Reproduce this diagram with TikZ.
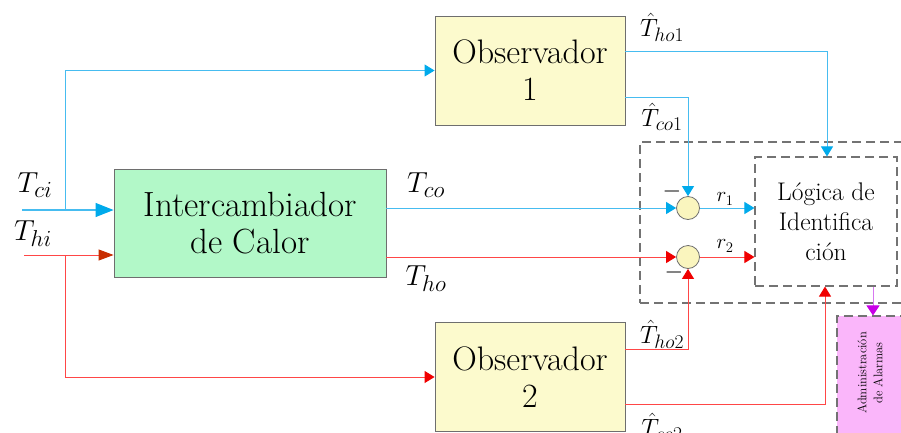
\RequirePackage{fix-cm}
\documentclass[tikz,border=0pt]{standalone}
\usetikzlibrary{arrows.meta,calc}
\newcommand{\sublab}[3]{$#1_{\mbox{\fontsize{#3}{#3}\selectfont$#2$}}$}
\definecolor{cyanl}{RGB}{70,188,240}
\definecolor{cyana}{RGB}{0,170,235}
\definecolor{redl}{RGB}{255,70,70}
\definecolor{reda}{RGB}{240,0,0}
\definecolor{redd}{RGB}{200,45,0}
\definecolor{greenf}{RGB}{178,248,200}
\definecolor{yellowf}{RGB}{252,250,205}
\definecolor{sumf}{RGB}{250,245,190}
\definecolor{pinkf}{RGB}{250,182,250}
\definecolor{purpa}{RGB}{200,0,230}
\definecolor{purpl}{RGB}{215,120,240}
\definecolor{dashg}{RGB}{115,115,115}
\definecolor{boxg}{RGB}{110,110,110}
\begin{document}
\begin{tikzpicture}[x=1pt,y=-1pt,
  blk/.style={draw=boxg, line width=0.9pt, align=center, inner sep=0pt},
  obsbox/.style={blk, fill=yellowf, minimum width=190pt, minimum height=109pt,
    font=\fontsize{34}{37}\selectfont},
  icbox/.style={blk, fill=greenf, minimum width=272pt, minimum height=108pt,
    font=\fontsize{35}{37}\selectfont},
  sumnode/.style={circle, draw=boxg, line width=0.8pt, fill=sumf, minimum size=23pt, inner sep=0pt},
  dashbox/.style={draw=dashg, line width=1.1pt, dash pattern=on 9pt off 5pt},
  logicbox/.style={dashbox, align=center, inner sep=0pt, minimum width=142pt, minimum height=129pt,
    font=\fontsize{25.5}{30}\selectfont},
  alarmbox/.style={dashbox, fill=pinkf, minimum width=90pt, minimum height=130pt, inner sep=0pt},
  cline/.style={draw=cyanl, line width=0.9pt, -{Triangle[length=10pt,width=12pt,color=cyana]}},
  cbig/.style={draw=cyanl, line width=1.1pt, -{Triangle[length=18pt,width=14pt,color=cyana]}},
  rline/.style={draw=redl, line width=0.9pt, -{Triangle[length=10pt,width=12pt,color=reda]}},
  rdark/.style={draw=redl, line width=0.9pt, -{Triangle[length=15pt,width=11pt,color=redd]}},
  pline/.style={draw=purpl, line width=1pt, -{Triangle[length=10pt,width=13pt,color=purpa]}},
  lab/.style={inner sep=0pt, font=\fontsize{29}{31}\selectfont},
  hlab/.style={inner sep=0pt, font=\fontsize{25}{27}\selectfont},
  rlab/.style={inner sep=0pt, font=\fontsize{21}{23}\selectfont},
  mlab/.style={inner sep=0pt, font=\fontsize{24}{26}\selectfont}
]
\useasboundingbox (0,0) rectangle (901,432);
\clip (0,0) rectangle (901,432);

% blocks
\node[icbox] (ic) at (250,223) {Intercambiador\\de Calor};
\node[obsbox] (o1) at (530,70.5) {Observador\\1};
\node[obsbox] (o2) at (530,377) {Observador\\2};
\node[dashbox, minimum width=275pt, minimum height=161pt, inner sep=0pt] (grp) at (777.5,222.5) {};
\node[logicbox] (lg) at (826,221.5) {Lógica de\\Identifica\\ción};
\node[sumnode] (j1) at (688,208) {};
\node[sumnode] (j2) at (688,257) {};
\node[alarmbox] (al) at (882,381) {};
\node[rotate=90, align=center, inner sep=0pt, font=\fontsize{12.5}{16}\selectfont] (alt) at (870,373) {Administración\\de Alarmas};

% inputs
\coordinate (tci) at (22,210);
\coordinate (thi) at (24,255);
\coordinate (bc) at (65,210);
\coordinate (br) at (65,255);
\draw[cbig] (tci) -- (tci -| ic.west);
\draw[rdark] (thi) -- (thi -| ic.west);
\draw[cline] (bc) |- (o1.west);
\draw[rline] (br) |- (o2.west);

% process outputs
\draw[cline] (ic.east |- j1) -- (j1.west);
\draw[rline] (ic.east |- j2) -- (j2.west);

% observer outputs
\draw[cline] ([yshift=19.5pt]o1.east) -| ([xshift=1pt]lg.north);
\draw[cline] ([yshift=-26.5pt]o1.east) -| (j1.north);
\draw[rline] ([yshift=28pt]o2.east) -| (j2.south);
\draw[rline] ([yshift=-27pt]o2.east) -| ([xshift=-1pt]lg.south);

% residuals
\draw[cline] (j1.east) -- (j1 -| lg.west);
\draw[rline] (j2.east) -- (j2 -| lg.west);
\draw[pline] ([xshift=47pt]lg.south) -- ([xshift=47pt]lg.south |- al.north);

% labels
\node[lab] (ltci) at (35,185) {\sublab{T}{ci}{23}};
\node[lab] (lthi) at (33,234) {\sublab{T}{hi}{23}};
\node[lab] (ltco) at (426,185) {\sublab{T}{co}{23}};
\node[lab] (ltho) at (426,279) {\sublab{T}{ho}{23}};
\node[hlab] (lh1) at (662,27) {\sublab{\hat{T}}{ho1}{19.5}};
\node[hlab] (lc1) at (662,117) {\sublab{\hat{T}}{co1}{19.5}};
\node[hlab] (lh2) at (662,334) {\sublab{\hat{T}}{ho2}{19.5}};
\node[hlab] (lc2) at (662,427) {\sublab{\hat{T}}{co2}{19.5}};
\node[rlab] (lr1) at (725,199) {$r_1$};
\node[rlab] (lr2) at (725,246) {$r_2$};
\node[mlab] (m1) at (672,191) {$-$};
\node[mlab] (m2) at (674,272) {$-$};
\end{tikzpicture}
\end{document}
